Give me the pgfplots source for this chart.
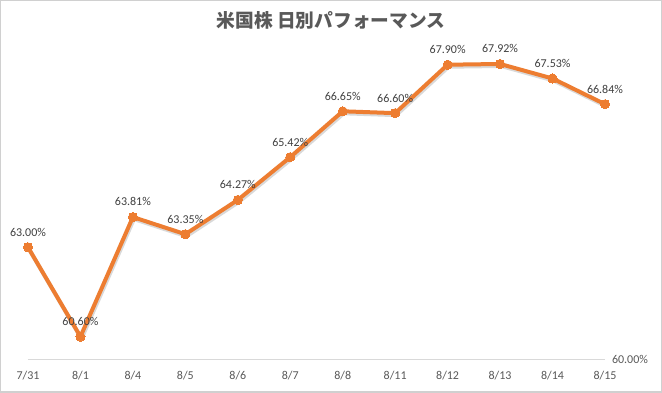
\documentclass[border=0pt]{standalone}
\usepackage{pgfplots}
\pgfplotsset{compat=1.18}
\usepackage{fontspec}
\setmainfont{Carlito}
\newfontfamily\cjk{Noto Sans CJK JP}
\definecolor{lineor}{HTML}{ED7D31}
\definecolor{txtgray}{HTML}{595959}
\definecolor{lblgray}{HTML}{404040}
\definecolor{gridgray}{HTML}{D9D9D9}
\definecolor{framegray}{HTML}{D0D0D0}
\begin{document}
\begin{tikzpicture}
\useasboundingbox (-28pt,-34pt) rectangle (634pt,359pt);
\fill[white] (-28pt,-34pt) rectangle (634pt,359pt);
\begin{axis}[
  scale only axis, width=577pt, height=298pt,
  at={(0pt,0pt)}, anchor=south west,
  xmin=0, xmax=11, ymin=60, ymax=68,
  clip=false,
  axis line style={draw=none},
  tick style={draw=none},
  major tick length=0pt,
  xtick={0,...,11},
  xticklabels={7/31,8/1,8/4,8/5,8/6,8/7,8/8,8/11,8/12,8/13,8/14,8/15},
  xticklabel style={font=\fontsize{12}{14}\selectfont, text=txtgray, yshift=-9pt},
  ytick={60},
  yticklabels={60.00\%},
  yticklabel pos=right,
  yticklabel style={font=\fontsize{12}{14}\selectfont, text=txtgray, xshift=3.5pt},
  ymajorgrids,
  grid style={draw=gridgray, line width=0.8pt},
  nodes near coords,
  point meta=explicit symbolic,
  nodes near coords style={anchor=south, yshift=11pt, inner sep=0pt,
    font=\fontsize{12}{14}\selectfont, text=lblgray},
]
\addplot[draw=black, line width=4pt, opacity=0.15, line join=round, line cap=round,
  transform canvas={xshift=1pt,yshift=-2pt}, nodes near coords={}, forget plot, mark=none]
  table[x=x, y=y] {
x y
0 63.00
1 60.60
2 63.81
3 63.35
4 64.27
5 65.42
6 66.65
7 66.60
8 67.90
9 67.92
10 67.53
11 66.84
};
\addplot[draw=lineor, line width=4pt, line join=round,
  mark=*, mark size=4.6pt, mark options={fill=lineor, draw=lineor, line width=0pt}]
  table[x=x, y=y, meta=l] {
x y l
0 63.00 63.00\%
1 60.60 60.60\%
2 63.81 63.81\%
3 63.35 63.35\%
4 64.27 64.27\%
5 65.42 65.42\%
6 66.65 66.65\%
7 66.60 66.60\%
8 67.90 67.90\%
9 67.92 67.92\%
10 67.53 67.53\%
11 66.84 66.84\%
};
\end{axis}
\node[font=\cjk\bfseries\fontsize{18.7}{22}\selectfont, text=txtgray] at (303pt,339pt) {米国株 日別パフォーマンス};
\draw[framegray, line width=1.5pt] (-27.25pt,-33.25pt) rectangle (633.25pt,358.25pt);
\end{tikzpicture}
\end{document}
